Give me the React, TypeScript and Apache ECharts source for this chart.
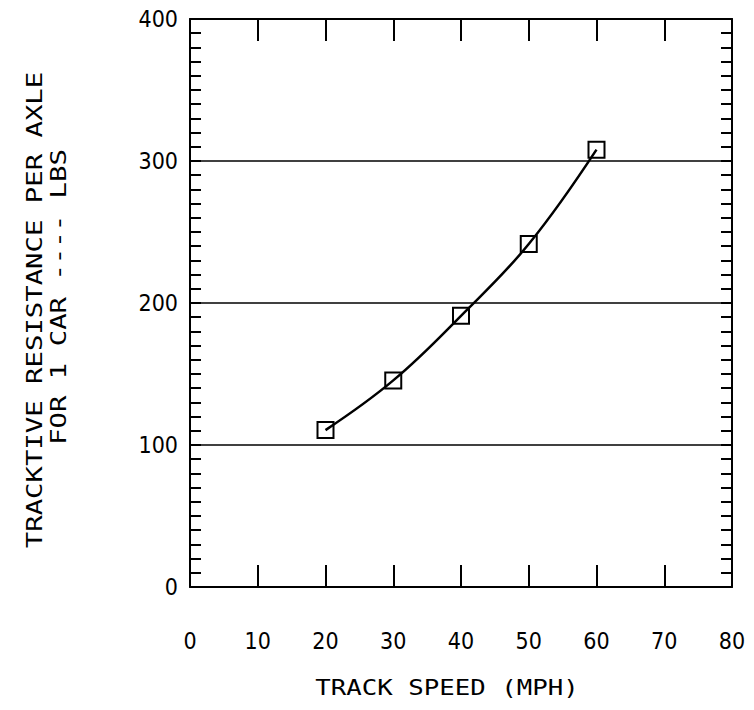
import React, { useEffect, useRef } from "react";
import * as echarts from "echarts";

const speeds = [20, 30, 40, 50, 60];
const resistance = [110.5, 145.5, 191, 241.5, 308];
const xTitle = "TRACK SPEED (MPH)";
const yTitle1 = "TRACKTIVE RESISTANCE PER AXLE";
const yTitle2 = "FOR 1 CAR ---- LBS";

const numFont = "'Liberation Sans Narrow', 'DejaVu Sans Condensed', 'Roboto', sans-serif";
const titleFont = "'DejaVu Sans Mono', 'Liberation Mono', monospace";

export default function App() {
  const ref = useRef<HTMLDivElement>(null);
  useEffect(() => {
    document.body.style.margin = "0";
    const chart = echarts.init(ref.current!, null, { renderer: "svg" });
    const axisLine = { show: true, onZero: false, lineStyle: { color: "#000", width: 2 } };
    chart.setOption({
      animation: false,
      backgroundColor: "#fff",
      grid: { left: 190, right: 22, top: 19, bottom: 123, containLabel: false },
      xAxis: [
        {
          type: "value",
          min: 0,
          max: 80,
          interval: 10,
          position: "bottom",
          axisLine,
          axisTick: { show: true, inside: true, length: 22, lineStyle: { color: "#000", width: 2 } },
          axisLabel: { show: true, margin: 42, fontSize: 23, color: "#000", fontFamily: numFont },
          splitLine: { show: false },
        },
        {
          type: "value",
          min: 0,
          max: 80,
          interval: 10,
          position: "top",
          axisLine,
          axisTick: { show: true, inside: true, length: 22, lineStyle: { color: "#000", width: 2 } },
          axisLabel: { show: false },
          splitLine: { show: false },
        },
      ],
      yAxis: [
        {
          type: "value",
          min: 0,
          max: 400,
          interval: 100,
          position: "left",
          axisLine,
          axisTick: { show: true, inside: true, length: 11, lineStyle: { color: "#000", width: 2 } },
          minorTick: { show: true, splitNumber: 10, length: 11, lineStyle: { color: "#000", width: 2 } },
          axisLabel: { show: true, margin: 12, fontSize: 23, color: "#000", fontFamily: numFont },
          splitLine: { show: true, lineStyle: { color: "#000", width: 1.5 } },
        },
        {
          type: "value",
          min: 0,
          max: 400,
          interval: 100,
          position: "right",
          axisLine,
          axisTick: { show: true, inside: true, length: 11, lineStyle: { color: "#000", width: 2 } },
          minorTick: { show: true, splitNumber: 10, length: 11, lineStyle: { color: "#000", width: 2 } },
          axisLabel: { show: false },
          splitLine: { show: false },
        },
      ],
      graphic: [
        {
          type: "text",
          x: 447,
          y: 688,
          scaleX: 1.17,
          style: {
            text: xTitle,
            fontSize: 22,
            fontFamily: titleFont,
            fill: "#000",
            align: "center",
            verticalAlign: "middle",
          },
        },
        {
          type: "text",
          x: 35,
          y: 310,
          rotation: Math.PI / 2,
          scaleX: 1.3,
          style: {
            text: yTitle1,
            fontSize: 21,
            fontFamily: titleFont,
            fill: "#000",
            align: "center",
            verticalAlign: "middle",
          },
        },
        {
          type: "text",
          x: 59,
          y: 297,
          rotation: Math.PI / 2,
          scaleX: 1.3,
          style: {
            text: yTitle2,
            fontSize: 21,
            fontFamily: titleFont,
            fill: "#000",
            align: "center",
            verticalAlign: "middle",
          },
        },
      ],
      series: [
        {
          type: "line",
          xAxisIndex: 0,
          yAxisIndex: 0,
          data: speeds.map((s, i) => [s, resistance[i]]),
          smooth: 0.4,
          symbol: "rect",
          symbolSize: 16,
          showSymbol: true,
          lineStyle: { color: "#000", width: 2.5 },
          itemStyle: { color: "rgba(0,0,0,0)", borderColor: "#000", borderWidth: 2 },
          emphasis: { disabled: true },
          z: 5,
        },
      ],
    });
    return () => chart.dispose();
  }, []);
  return <div ref={ref} style={{ width: 754, height: 710, position: "fixed", left: 0, top: 0 }} />;
}
